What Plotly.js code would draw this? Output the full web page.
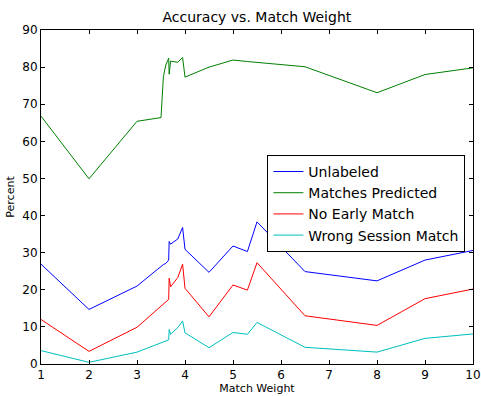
<!DOCTYPE html>
<html>
<head>
<meta charset="utf-8">
<script src="https://cdn.plot.ly/plotly-3.0.1.min.js"></script>
<style>html,body{margin:0;padding:0;background:#fff;}#chart{width:481px;height:396px;}</style>
</head>
<body>
<div id="chart"></div>
<script>
const matchWeight = [1, 2, 3, 3.5, 3.55, 3.6, 3.66, 3.67, 3.7, 3.85, 3.95, 4, 4.5, 5, 5.3, 5.5, 6.5, 8, 9, 10];
const unlabeled = [26.9, 14.7, 21.0, 26.5, 26.8, 27.1, 28.0, 33.0, 32.3, 33.7, 36.8, 30.9, 24.7, 31.8, 30.3, 38.3, 24.9, 22.4, 28.0, 30.6];
const matchesPredicted = [66.8, 49.9, 65.4, 66.4, 77.4, 80.6, 82.4, 78.1, 81.6, 81.3, 82.6, 77.3, 80.0, 81.9, 81.5, 81.3, 80.1, 73.1, 78.0, 79.8];
const noEarlyMatch = [12.0, 3.4, 9.9, 15.5, 16.0, 16.6, 17.4, 23.1, 20.8, 23.3, 26.9, 20.4, 12.7, 21.3, 19.9, 27.3, 13.0, 10.4, 17.6, 20.2];
const wrongSessionMatch = [3.6, 0.45, 3.2, 5.8, 6.0, 6.2, 6.5, 9.3, 8.0, 9.8, 11.6, 8.4, 4.4, 8.5, 8.0, 11.2, 4.5, 3.2, 6.9, 8.1];
const seriesNames = ['Unlabeled', 'Matches Predicted', 'No Early Match', 'Wrong Session Match'];
const xTicks = [1, 2, 3, 4, 5, 6, 7, 8, 9, 10];
const yTicks = [0, 10, 20, 30, 40, 50, 60, 70, 80, 90];

const colors = ['#0000ff', '#008000', '#ff0000', '#00bfbf'];
const series = [unlabeled, matchesPredicted, noEarlyMatch, wrongSessionMatch];
const traces = series.map((ys, i) => ({
  x: matchWeight, y: ys, type: 'scatter', mode: 'lines', name: seriesNames[i],
  line: {color: colors[i], width: 1}
}));

const font = {family: 'DejaVu Sans, sans-serif', color: '#000'};
const axisCommon = {
  showline: true, linecolor: '#000', linewidth: 1, mirror: 'ticks',
  ticks: 'inside', ticklen: 4, tickcolor: '#000', tickwidth: 1,
  showgrid: false, zeroline: false,
  tickfont: Object.assign({size: 12}, font)
};
const layout = {
  width: 481, height: 396,
  margin: {l: 41, r: 8, t: 30, b: 32, pad: 0},
  paper_bgcolor: '#fff', plot_bgcolor: '#fff',
  font: font,
  title: {text: 'Accuracy vs. Match Weight', font: Object.assign({size: 14}, font), x: 0.534, xanchor: 'center', y: 0.957, yanchor: 'middle'},
  xaxis: Object.assign({}, axisCommon, {
    range: [1, 10], tickmode: 'array', tickvals: xTicks, ticktext: xTicks.map(String),
    title: {text: 'Match Weight', font: Object.assign({size: 11}, font), standoff: 1}
  }),
  yaxis: Object.assign({}, axisCommon, {
    range: [0, 90], tickmode: 'array', tickvals: yTicks, ticktext: yTicks.map(String),
    title: {text: 'Percent', font: Object.assign({size: 11}, font), standoff: 5}
  }),
  showlegend: true,
  legend: {
    x: 0.524, y: 0.626, xanchor: 'left', yanchor: 'top',
    bgcolor: '#fff', bordercolor: '#000', borderwidth: 1,
    font: Object.assign({size: 14}, font),
    itemwidth: 30, tracegroupgap: 0
  }
};
Plotly.newPlot('chart', traces, layout, {displayModeBar: false, staticPlot: true});
</script>
</body>
</html>
